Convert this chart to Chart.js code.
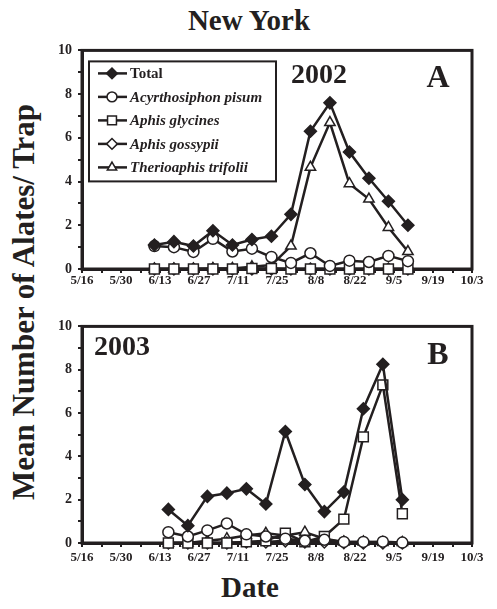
<!DOCTYPE html>
<html>
<head>
<meta charset="utf-8">
<title>New York alates</title>
<script src="https://cdn.jsdelivr.net/npm/chart.js@4.4.1/dist/chart.umd.min.js"></script>
<style>
  body { margin: 0; background: #fff; }
  #wrap { position: relative; width: 497px; height: 609px; overflow: hidden;
          font-family: "Liberation Serif", "Times New Roman", serif; color: #231f20; }
  .panel { position: absolute; left: 0; }
  .lbl { position: absolute; font-weight: bold; line-height: 1; white-space: nowrap;
         transform: translate(-50%, -50%); }
  #ytitle { transform: translate(-50%, -50%) rotate(-90deg); }
</style>
</head>
<body>
<div id="wrap">
  <div class="lbl" style="left:249px; top:20px; font-size:29px;">New York</div>
  <div class="lbl" id="ytitle" style="left:23px; top:302px; font-size:31px;">Mean Number of Alates/ Trap</div>
  <div class="lbl" style="left:250px; top:587px; font-size:29px;">Date</div>

  <canvas id="chartA" class="panel" width="497" height="260" style="top:36px"></canvas>
  <canvas id="chartB" class="panel" width="497" height="260" style="top:312px"></canvas>

  <div class="lbl" style="left:319px; top:74px; font-size:28px;">2002</div>
  <div class="lbl" style="left:438px; top:76px; font-size:32px;">A</div>
  <div class="lbl" style="left:122px; top:346px; font-size:28px;">2003</div>
  <div class="lbl" style="left:438px; top:353px; font-size:32px;">B</div>
</div>

<script>
// x axis runs on day of year, 5/16 = day 136
const tickLabels = ['5/16', '5/30', '6/13', '6/27', '7/11', '7/25', '8/8', '8/22', '9/5', '9/19', '10/3'];
const firstTickDay = 136;
const seriesNames = ['Total', 'Acyrthosiphon pisum', 'Aphis glycines', 'Aphis gossypii', 'Therioaphis trifolii'];

// 2002 trap dates and means
const days2002 = [162, 169, 176, 183, 190, 197, 204, 211, 218, 225, 232, 239, 246, 253];
const total2002 = [1.1, 1.25, 1.05, 1.75, 1.1, 1.35, 1.5, 2.5, 6.3, 7.6, 5.35, 4.15, 3.1, 2.0];
const pisum2002 = [1.05, 1.0, 0.78, 1.38, 0.8, 0.93, 0.55, 0.28, 0.72, 0.14, 0.38, 0.32, 0.6, 0.36];
const glycines2002 = [0, 0, 0, 0, 0, 0.02, 0.02, 0, 0, 0, 0, 0, 0, 0];
const gossypii2002 = [0, 0, 0, 0, 0, 0, 0, 0, 0, 0, 0, 0, 0, 0];
const trifolii2002 = [0, 0, 0, 0.02, 0.02, 0.1, 0.18, 1.05, 4.65, 6.7, 3.9, 3.2, 1.9, 0.8];

// 2003 trap dates and means
const days2003 = [167, 174, 181, 188, 195, 202, 209, 216, 223, 230, 237, 244, 251];
const total2003 = [1.55, 0.8, 2.15, 2.3, 2.5, 1.8, 5.15, 2.7, 1.45, 2.35, 6.2, 8.25, 2.0];
const pisum2003 = [0.5, 0.3, 0.58, 0.9, 0.4, 0.3, 0.2, 0.1, 0.15, 0.05, 0.05, 0.06, 0.02];
const glycines2003 = [0, 0, 0, 0, 0.05, 0.1, 0.45, 0.05, 0.3, 1.1, 4.9, 7.3, 1.35];
const gossypii2003 = [0, 0, 0, 0, 0.05, 0.05, 0.1, 0.05, 0.05, 0.02, 0, 0, 0];
const trifolii2003 = [0, 0, 0.1, 0.2, 0.35, 0.45, 0.35, 0.5, 0.2, 0.05, 0.05, 0.02, 0.02];

const ink = '#231f20';
const fontFamily = '"Liberation Serif", "Times New Roman", serif';

// marker look for each series, same order as seriesNames
const markerStyles = [
    { pointStyle: 'rectRot', pointRadius: 6, pointBackgroundColor: ink },
    { pointStyle: 'circle', pointRadius: 5.5, pointBackgroundColor: '#fff' },
    { pointStyle: 'rect', pointRadius: 7, pointBackgroundColor: '#fff' },
    { pointStyle: 'rectRot', pointRadius: 6, pointBackgroundColor: '#fff' },
    { pointStyle: 'triangle', pointRadius: 6, pointBackgroundColor: '#fff' }
];

const buildDatasets = (days, seriesValues) => seriesValues.map((values, i) => ({
    label: seriesNames[i],
    data: values.map((v, j) => ({ x: days[j], y: v })),
    borderColor: ink,
    borderWidth: 2.5,
    pointBorderColor: ink,
    pointBorderWidth: 1.5,
    pointHoverRadius: markerStyles[i].pointRadius,
    tension: 0,
    clip: false,
    ...markerStyles[i]
}));

// box round the plot area, drawn under the lines
const framePlugin = {
    id: 'frame',
    beforeDatasetsDraw(chart) {
        const { ctx, chartArea: a } = chart;
        ctx.save();
        ctx.lineWidth = 3;
        ctx.strokeStyle = ink;
        ctx.strokeRect(a.left, a.top, a.right - a.left, a.bottom - a.top);
        ctx.restore();
    }
};

// legend box in the top-left corner of panel A
const speciesLegend = {
    id: 'speciesLegend',
    afterDraw(chart, args, opts) {
        if (!opts.show) return;
        const { ctx, chartArea: a } = chart;
        const x0 = a.left + 7, y0 = a.top + 11, w = 187, h = 120;
        ctx.save();
        ctx.fillStyle = '#fff';
        ctx.fillRect(x0, y0, w, h);
        ctx.lineWidth = 2;
        ctx.strokeStyle = ink;
        ctx.strokeRect(x0, y0, w, h);
        ctx.textBaseline = 'middle';
        chart.data.datasets.forEach((ds, i) => {
            const y = y0 + 12 + i * 23.5;
            ctx.beginPath();
            ctx.moveTo(x0 + 9, y);
            ctx.lineTo(x0 + 38, y);
            ctx.lineWidth = 2.5;
            ctx.strokeStyle = ink;
            ctx.stroke();
            ctx.fillStyle = ds.pointBackgroundColor;
            ctx.lineWidth = 1.5;
            Chart.helpers.drawPoint(ctx, {
                pointStyle: ds.pointStyle,
                radius: ds.pointRadius * 0.9,
                borderWidth: 1.5,
                rotation: 0
            }, x0 + 23, y);
            ctx.fillStyle = ink;
            ctx.font = (i === 0 ? 'bold ' : 'italic bold ') + '15px ' + fontFamily;
            ctx.fillText(ds.label, x0 + 41, y + 1);
        });
        ctx.restore();
    }
};

const makePanel = (canvasId, days, seriesValues, xAxisHeight, xLabelPad, showLegend) => {
    const canvas = document.getElementById(canvasId);
    return new Chart(canvas.getContext('2d'), {
        type: 'line',
        data: { datasets: buildDatasets(days, seriesValues) },
        plugins: [framePlugin, speciesLegend],
        options: {
            responsive: false,
            animation: false,
            events: [],
            layout: { padding: { top: 11, right: 25, left: 0, bottom: 0 } },
            plugins: {
                legend: { display: false },
                tooltip: { enabled: false },
                speciesLegend: { show: showLegend }
            },
            scales: {
                x: {
                    type: 'linear',
                    min: firstTickDay,
                    max: firstTickDay + 14 * (tickLabels.length - 1),
                    afterBuildTicks: scale => {
                        const ticks = [];
                        for (let d = scale.min; d <= scale.max; d += 7) ticks.push({ value: d });
                        scale.ticks = ticks;
                    },
                    afterFit: scale => { scale.height = xAxisHeight; },
                    ticks: {
                        autoSkip: false,
                        maxRotation: 0,
                        padding: xLabelPad,
                        color: ink,
                        font: { family: fontFamily, size: 13, weight: 'bold' },
                        callback: v => (v - firstTickDay) % 14 === 0 ? tickLabels[(v - firstTickDay) / 14] : ''
                    },
                    grid: { drawOnChartArea: false, drawTicks: true, tickLength: 4, color: ink, lineWidth: 2 },
                    border: { display: true, color: ink, width: 3 }
                },
                y: {
                    min: 0,
                    max: 10,
                    afterBuildTicks: scale => {
                        const ticks = [];
                        for (let v = 0; v <= 10; v++) ticks.push({ value: v });
                        scale.ticks = ticks;
                    },
                    afterFit: scale => { scale.width = 82; },
                    ticks: {
                        autoSkip: false,
                        padding: 6,
                        color: ink,
                        font: { family: fontFamily, size: 14, weight: 'bold' },
                        callback: v => v % 2 === 0 ? String(v) : ''
                    },
                    grid: { drawOnChartArea: false, drawTicks: true, tickLength: 4, color: ink, lineWidth: 2 },
                    border: { display: true, color: ink, width: 3 }
                }
            }
        }
    });
};

makePanel('chartA', days2002,
    [total2002, pisum2002, glycines2002, gossypii2002, trifolii2002], 27, 0, true);
makePanel('chartB', days2003,
    [total2003, pisum2003, glycines2003, gossypii2003, trifolii2003], 29, 3, false);
</script>
</body>
</html>
